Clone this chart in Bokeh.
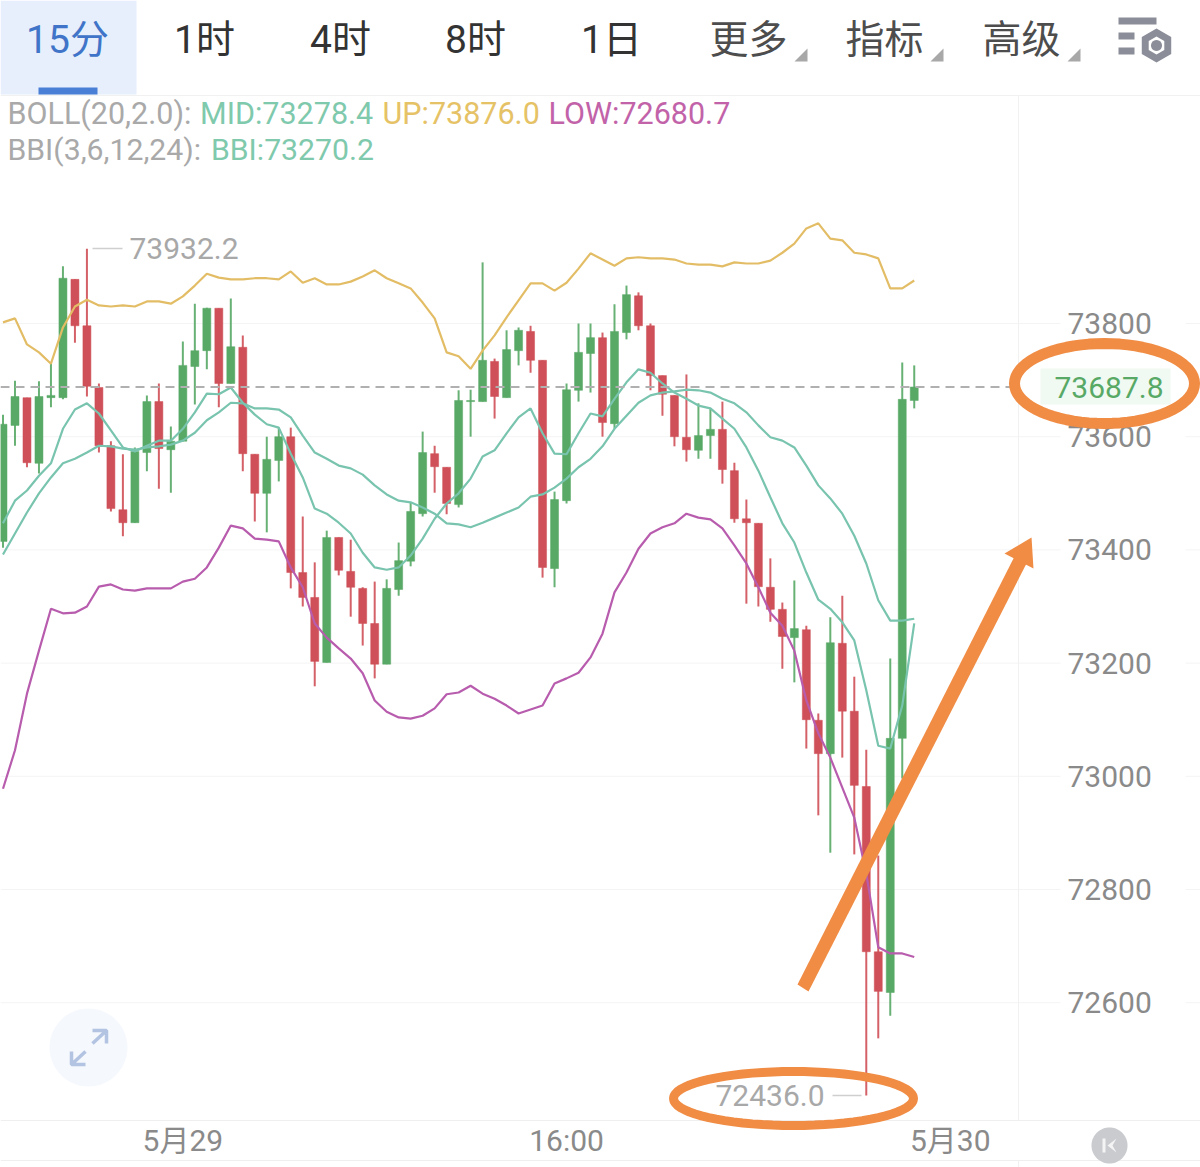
import numpy as np
from bokeh.plotting import figure
from bokeh.models import ColumnDataSource, FixedTicker, NumeralTickFormatter, PolyAnnotation, Label
from bokeh.embed import file_html
from bokeh.resources import INLINE

# ---------- data ----------
open_ = [73415,73620,73669,73553,73669,73669,73878,73796,73687,73584,73471,73448,73572,73662,73577,73592,73724,73752,73827,73694,73758,73569,73500,73558,73600,73360,73316,73201,73422,73362,73332,73270,73198,73330,73380,73464,73570,73546,73480,73662,73662,73733,73669,73752,73786,73735,73367,73487,73682,73747,73775,73623,73784,73849,73796,73708,73673,73599,73576,73602,73613,73540,73455,73447,73334,73295,73245,73259,73099,73040,73235,73115,72982,72690,72618,73067,73664]
high = [73639,73699,73669,73698,73731,73901,73878,73932.2,73694,73592,73569,73581,73673,73694,73618,73768,73835,73828,73827,73844,73779,73569,73600,73616,73616,73459,73378,73434,73422,73418,73334,73344,73348,73413,73484,73609,73584,73546,73682,73683,73908,73738,73788,73793,73796,73735,73503,73694,73800,73800,73784,73834,73867,73855,73800,73708,73673,73710,73659,73650,73662,73554,73489,73447,73385,73307,73346,73266,73111,73281,73319,73176,73047,72860,73208,73731,73726]
low = [73404,73584,73546,73535,73652,73666,73766,73671,73572,73468,73424,73448,73539,73508,73501,73592,73657,73719,73652,73694,73539,73450,73431,73521,73332,73300,73159,73201,73355,73282,73231,73173,73198,73319,73371,73459,73501,73463,73475,73600,73662,73632,73669,73726,73713,73351,73334,73482,73662,73678,73600,73614,73772,73788,73682,73637,73583,73556,73561,73561,73517,73448,73305,73300,73273,73190,73166,73049,72931,72865,73033,72862,72436,72537,72577,72996,73650]
close = [73622,73671,73554,73671,73673,73880,73796,73689,73584,73473,73448,73574,73662,73579,73592,73726,73752,73827,73694,73759,73570,73500,73560,73600,73360,73316,73203,73422,73364,73334,73270,73198,73332,73381,73468,73572,73547,73482,73664,73664,73735,73671,73754,73788,73735,73369,73489,73683,73749,73775,73625,73786,73851,73796,73708,73675,73600,73577,73602,73613,73542,73455,73448,73335,73295,73247,73261,73100,73040,73236,73115,72984,72690,72620,73067,73666,73687.8]

boll_up = [73802,73809,73763,73749,73729,73793,73830,73842,73832,73830,73832,73830,73839,73839,73835,73848,73867,73888,73881,73878,73878,73880,73880,73878,73892,73872,73880,73869,73869,73874,73883,73894,73880,73871,73862,73837,73809,73749,73742,73720,73752,73779,73811,73841,73871,73871,73858,73872,73897,73924,73913,73902,73915,73917,73915,73915,73913,73906,73904,73904,73901,73908,73906,73906,73911,73925,73941,73968,73977,73950,73947,73925,73922,73915,73862,73862,73876]
boll_mid = [73392,73429,73466,73500,73528,73553,73561,73572,73584,73583,73579,73577,73581,73583,73586,73593,73607,73629,73643,73660,73659,73650,73650,73648,73634,73602,73572,73561,73549,73544,73533,73514,73498,73487,73484,73475,73464,73447,73445,73440,73448,73457,73466,73475,73494,73498,73510,73526,73546,73561,73583,73614,73637,73660,73673,73678,73680,73683,73682,73678,73667,73659,73643,73620,73599,73593,73581,73549,73514,73491,73464,73425,73376,73311,73275,73275,73278.4]
boll_low = [72978,73046,73146,73222,73296,73288,73289,73300,73335,73339,73330,73328,73332,73332,73332,73344,73349,73369,73404,73443,73438,73420,73418,73415,73369,73334,73270,73245,73226,73208,73182,73134,73114,73104,73102,73107,73120,73145,73148,73160,73146,73137,73125,73111,73118,73125,73164,73173,73183,73210,73252,73325,73360,73402,73429,73440,73447,73464,73457,73454,73438,73408,73376,73334,73289,73266,73222,73134,73076,73033,72980,72927,72828,72698,72687,72687,72680.7]
bbi = [73447,73487,73505,73531,73553,73614,73648,73659,73641,73611,73581,73574,73584,73593,73593,73614,73643,73676,73675,73687,73660,73639,73622,73616,73570,73528,73473,73464,73448,73429,73395,73369,73365,73369,73390,73420,73455,73482,73500,73526,73565,73576,73606,73634,73650,73606,73570,73569,73606,73641,73636,73667,73696,73719,73713,73694,73678,73667,73655,73650,73632,73614,73581,73540,73493,73447,73413,73360,73312,73296,73272,73240,73152,73054,73049,73125,73270.2]

price_ticks = [72600, 72800, 73000, 73200, 73400, 73600, 73800]
time_ticks = {15: "5月29", 47: "16:00", 79: "5月30"}
tabs = [("15分", 67, "#3f74c8"), ("1时", 204, "#333333"), ("4时", 340, "#333333"), ("8时", 475, "#333333"),
        ("1日", 611, "#333333"), ("更多", 748, "#4d4d4d"), ("指标", 884, "#4d4d4d"), ("高级", 1021, "#4d4d4d")]
legend1 = [("BOLL(20,2.0):", 7, "#a9a9a9"), ("MID:73278.4", 199.5, "#7fc9ad"), ("UP:73876.0", 382, "#e6c266"), ("LOW:72680.7", 548, "#c263a9")]
legend2 = [("BBI(3,6,12,24):", 7, "#a9a9a9"), ("BBI:73270.2", 210.5, "#7fc9ad")]
last_price = 73687.8
high_mark = 73932.2
low_mark = 72436.0

# ---------- page-pixel helpers for the decorations ----------
PITCH = 11.99
def X(px):
    return (px - 2.5) / PITCH
def Y(py):
    return 73800 - (py - 323) * 1.7668

FONT = "Roboto, 'Noto Sans CJK SC'"
UP_C, DN_C = "#58a966", "#cf5058"
ORANGE = "#f08c44"

idx = list(range(len(close)))
is_up = [c >= o for o, c in zip(open_, close)]
src = ColumnDataSource(dict(
    x=idx, top=[max(o, c) for o, c in zip(open_, close)], bottom=[min(o, c) for o, c in zip(open_, close)],
    high=high, low=low, color=[UP_C if u else DN_C for u in is_up]))

p = figure(width=1200, height=1167, x_range=(X(0), X(1200)), y_range=(Y(1167), Y(0)),
           output_backend="svg", toolbar_location=None, y_axis_location="right", min_border=0)
p.outline_line_color = None
p.background_fill_color = "white"
p.border_fill_color = "white"
p.grid.visible = False

ya = p.yaxis[0]
ya.fixed_location = X(1018)
ya.ticker = FixedTicker(ticks=price_ticks)
ya.formatter = NumeralTickFormatter(format="0")
ya.axis_line_color = None
ya.major_tick_in = 0
ya.major_tick_out = 0
ya.major_tick_line_color = None
ya.minor_tick_line_color = None
ya.major_label_standoff = 49
ya.major_label_text_font = FONT
ya.major_label_text_font_size = "30px"
ya.major_label_text_color = "#8a8a8a"

xa = p.xaxis[0]
xa.fixed_location = Y(1120)
xa.ticker = FixedTicker(ticks=list(time_ticks))
xa.major_label_overrides = time_ticks
xa.axis_line_color = None
xa.major_tick_in = 0
xa.major_tick_out = 0
xa.major_tick_line_color = None
xa.minor_tick_line_color = None
xa.major_label_standoff = 2
xa.major_label_text_font = FONT
xa.major_label_text_font_size = "30px"
xa.major_label_text_color = "#8a8a8a"

# grid pieces left and right of the price labels
for a, b in ((0, 1060), (1185, 1200)):
    p.segment([X(a)] * len(price_ticks), price_ticks, [X(b)] * len(price_ticks), price_ticks,
              line_color="#f4f4f4", line_width=1)

# candles
p.segment("x", "high", "x", "low", source=src, color="color", line_width=2, line_alpha=0.9)
p.vbar("x", 0.667, "top", "bottom", source=src, fill_color="color", line_color="color", line_width=0.5)

# indicators
for series, col in ((boll_up, "#e3bd66"), (boll_mid, "#79c4ae"), (bbi, "#79c4ae"), (boll_low, "#b85cae")):
    p.line(idx, series, line_color=col, line_width=2.2)

p.line([X(0), X(1012)], [last_price, last_price], line_color="#b0b0b0", line_width=2, line_dash="9 6")

def poly(px, py, fill=None, line=None, lw=1.0):
    p.add_layout(PolyAnnotation(xs=[X(a) for a in px], ys=[Y(b) for b in py],
                                fill_color=fill or "white", fill_alpha=1 if fill else 0,
                                line_color=line or "white", line_alpha=1 if line else 0, line_width=lw))
def rect(x0, y0, x1, y1, fill):
    poly([x0, x1, x1, x0], [y0, y0, y1, y1], fill=fill)
def ring(cx, cy, rx, ry, fill=None, line=None, lw=1.0, n=72, rot=0.0):
    t = np.linspace(0, 2 * np.pi, n, endpoint=False) + rot
    poly(list(cx + rx * np.cos(t)), list(cy + ry * np.sin(t)), fill=fill, line=line, lw=lw)
def label(text, px, py, size, color, align="left"):
    p.add_layout(Label(x=X(px), y=Y(py), text=text, text_font=FONT, text_font_size=f"{size}px",
                       text_color=color, text_align=align, text_baseline="middle"))

# frame lines
rect(0, 94.5, 1200, 95.5, "#f1f1f1")
rect(0, 1119.5, 1200, 1120.5, "#efefef")
rect(0, 1159.5, 1200, 1160.5, "#efefef")
rect(1017.5, 95, 1018.5, 1120, "#f1f1f1")
rect(1017.5, 1160, 1018.5, 1167, "#f1f1f1")

# tab bar
rect(0, 0, 136, 94, "#e6effb")
rect(38, 87, 97, 94, "#4a7fd6")
for text, cx, col in tabs:
    label(text, cx, 39, 39, col, "center")
for tx in (807, 943, 1080):
    poly([tx - 13, tx, tx], [61, 61, 48], fill="#a8a8a8")
ICON = "#8b8e99"
rect(1118, 17, 1156, 24, ICON)
rect(1118, 32, 1134, 39, ICON)
rect(1118, 47, 1134, 54, ICON)
ring(1156, 45, 17, 17, fill=ICON, n=6, rot=np.pi / 2)
ring(1156, 45, 9, 9, fill="white", n=6, rot=np.pi / 2)
ring(1156, 45, 5.5, 5.5, fill=ICON, n=24)

# legend
for text, px, col in legend1:
    label(text, px, 113, 30.5, col)
for text, px, col in legend2:
    label(text, px, 148.5, 30.2, col)

# high / low markers
poly([92, 122], [248, 248], line="#cfcfcf", lw=1.5)
label(f"{high_mark:.1f}", 129, 248, 30, "#a8a8a8")
poly([832, 861], [1095, 1095], line="#cfcfcf", lw=1.5)
label(f"{low_mark:.1f}", 715, 1095, 30, "#a8a8a8")

# expand button
ring(88, 1047, 39, 39, fill="#f5f8fd")
for pts in (([92, 106, 106, 106, 92, 106], [1043, 1030, 1043, 1030, 1030, 1030]),
            ([85, 71, 71, 71, 85, 71], [1051, 1064, 1051, 1064, 1064, 1064])):
    poly(pts[0], pts[1], line="#b3c3e2", lw=3.5)

# last price tag
rect(1040, 368, 1170, 404, "#f1f9f3")
label(f"{last_price:.1f}", 1054, 387, 30, "#58a966")

# hand-drawn highlights
ring(1104, 383, 90, 40, line=ORANGE, lw=11)
ring(793, 1098, 120, 27, line=ORANGE, lw=9)
poly([797, 808, 1026, 1014], [984, 991, 563, 556], fill=ORANGE)
poly([1004, 1031, 1033], [553, 537, 568], fill=ORANGE)

# K button
ring(1109, 1145, 18, 18, fill="#c9cbcf")
rect(1102, 1138, 1105, 1152, "#f4f4f4")
poly([1116, 1107, 1116, 1112, 1112], [1138, 1145, 1152, 1145, 1145], fill="#f4f4f4")

open("out.html", "w").write(file_html(p, INLINE))
